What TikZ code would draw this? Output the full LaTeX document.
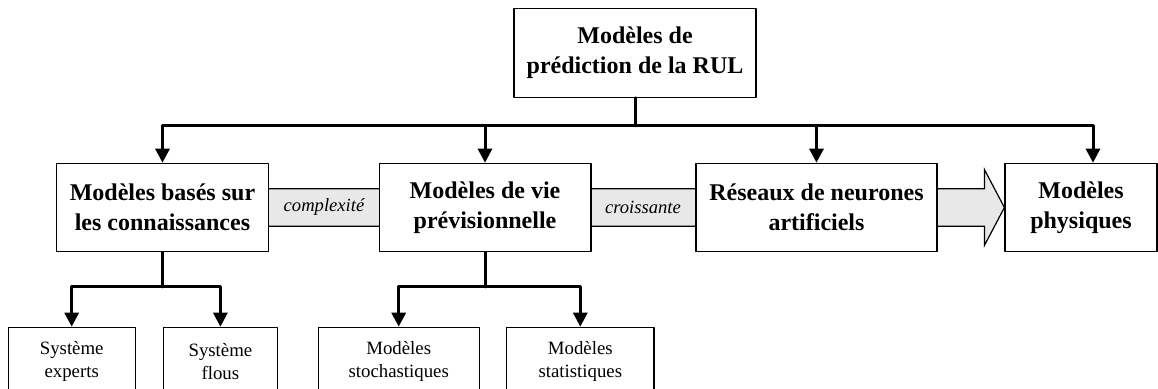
\documentclass[tikz,border=0pt]{standalone}
\usepackage{fontspec}
\setmainfont{Liberation Serif}
\usetikzlibrary{arrows.meta,backgrounds}

\begin{document}
\begin{tikzpicture}[line cap=round,line join=round,>={Triangle[length=7pt,width=7pt]},x=0.5pt,y=-0.5pt,
	bigbox/.style={draw,line width=0.6pt,fill=white,inner sep=0pt,align=center,minimum height=44.2pt,font=\fontsize{12}{15}\selectfont\bfseries},
	smallbox/.style={draw,line width=0.6pt,fill=white,inner sep=0pt,align=center,minimum height=33.9pt,font=\fontsize{9.4}{11.5}\selectfont},
	conn/.style={line width=1.5pt},
	lbl/.style={inner sep=0pt,font=\fontsize{9.3}{11}\selectfont\itshape}]
				\useasboundingbox (0,0) rectangle (1158,389);
				% top
				\node[bigbox,minimum width=121pt] (rul) at (635,53) {Mod\`eles de\\pr\'ediction de la RUL};
				% main families
				\node[bigbox,minimum width=105.8pt] (kb) at (162.5,207.5) {Mod\`eles bas\'es sur\\les connaissances};
				\node[bigbox,minimum width=105.9pt] (vie) at (485,207.5) {Mod\`eles de vie\\pr\'evisionnelle};
				\node[bigbox,minimum width=120.5pt] (rna) at (816.5,207.5) {R\'eseaux de neurones\\artificiels};
				\node[bigbox,minimum width=76pt] (phys) at (1081,207.5) {Mod\`eles\\physiques};
				% sub-models
				\node[smallbox,minimum width=63.4pt] (exp) at (71.7,361.2) {Syst\`eme\\experts};
				\node[smallbox,minimum width=57.1pt] (flous) at (220.4,361.2) {Syst\`eme\\flous};
				\node[smallbox,minimum width=80.4pt] (stoch) at (398.7,361.2) {Mod\`eles\\stochastiques};
				\node[smallbox,minimum width=73.7pt] (stat) at (580.3,361.2) {Mod\`eles\\statistiques};
				% complexity arrow
				\begin{scope}[on background layer]
					\draw[line width=0.6pt,fill=gray!18] ([yshift=9.4pt]kb.center) -- ([xshift=-10pt,yshift=9.4pt]phys.west) -- ([xshift=-10pt,yshift=19pt]phys.west) -- (phys.west) -- ([xshift=-10pt,yshift=-19pt]phys.west) -- ([xshift=-10pt,yshift=-9.4pt]phys.west) -- ([yshift=-9.4pt]kb.center) -- cycle;
				\end{scope}
				\node[lbl] (cplx) at (324,207.5) {complexit\'e};
				\node[lbl] (crois) at (643,207.5) {croissante};
				% connectors
				\coordinate (bus) at (635,126);
				\coordinate (kbfork) at (162.5,287);
				\coordinate (viefork) at (485,287);
				\draw[conn] (rul.south) -- (bus);
				\draw[conn,->] (bus) -| (kb.north);
				\draw[conn,->] (bus) -| (vie.north);
				\draw[conn,->] (bus) -| (rna.north);
				\draw[conn,->] (bus) -| ([xshift=6pt]phys.north);
				\draw[conn] (kb.south) -- (kbfork);
				\draw[conn,->] (kbfork) -| (exp.north);
				\draw[conn,->] (kbfork) -| (flous.north);
				\draw[conn] (vie.south) -- (viefork);
				\draw[conn,->] (viefork) -| (stoch.north);
				\draw[conn,->] (viefork) -| (stat.north);
			\end{tikzpicture}
\end{document}
